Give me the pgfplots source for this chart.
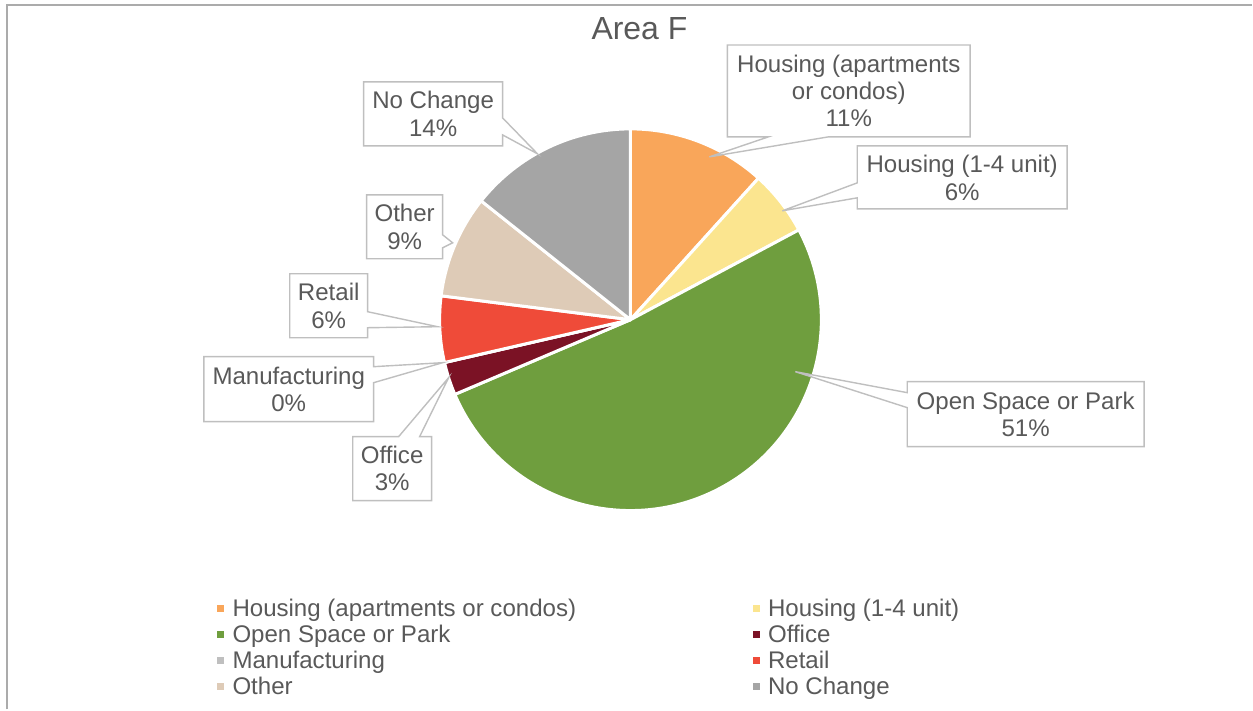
\documentclass[border=0pt]{standalone}
\usepackage{pgfplots}
\pgfplotsset{compat=1.18}
\usepackage{pgfplotstable}
\usepackage{fontspec}
\setmainfont{Liberation Sans}

\definecolor{cApt}{HTML}{F9A65A}
\definecolor{cSmall}{HTML}{FBE58F}
\definecolor{cOpen}{HTML}{6F9E3E}
\definecolor{cOffice}{HTML}{7B1225}
\definecolor{cManu}{HTML}{BFBFBF}
\definecolor{cRetail}{HTML}{EF4B39}
\definecolor{cOther}{HTML}{DECBB7}
\definecolor{cNoCh}{HTML}{A5A5A5}
\definecolor{txt}{HTML}{595959}
\definecolor{boxline}{HTML}{BFBFBF}
\definecolor{framegray}{HTML}{ABABAB}

% share of each slice, clockwise from 12 o'clock
\pgfplotstableread{
idx value color
0 11.7 cApt
1 5.5  cSmall
2 51.4 cOpen
3 2.8  cOffice
4 0.0  cManu
5 5.6  cRetail
6 8.7  cOther
7 14.3 cNoCh
}\piedata

\begin{document}
\begin{tikzpicture}[
  lbl/.style={text=txt, align=center, inner sep=0pt,
    font=\fontsize{6.85}{7.8}\selectfont},
  callout/.style={draw=boxline, fill=white, line width=0.4pt, line join=miter},
]
% start and end angle of every slice
\def\acc{90}
\foreach \i in {0,...,7}{
  \pgfplotstablegetelem{\i}{value}\of\piedata
  \pgfmathsetmacro\e{\acc-3.6*\pgfplotsretval}
  \expandafter\xdef\csname pa\i\endcsname{\acc}
  \expandafter\xdef\csname pb\i\endcsname{\e}
  \xdef\acc{\e}
  \pgfplotstablegetelem{\i}{color}\of\piedata
  \expandafter\xdef\csname pc\i\endcsname{\pgfplotsretval}
}
\begin{axis}[
  scale only axis, width=12.53cm, height=7.10cm,
  xmin=0, xmax=1253, ymin=0, ymax=710, y dir=reverse,
  hide axis, clip=false,
]
\path (rel axis cs:0,0) rectangle (rel axis cs:1,1);

% frame (only top and left edges are in view)
\draw[framegray, line width=0.6pt] (axis cs:7,710) -- (axis cs:7,5) -- (axis cs:1253,5);

\node[text=txt, font=\fontsize{9.1}{10}\selectfont] at (axis cs:640,29) {Area F};

% slices
\pgfplotsinvokeforeach{0,...,7}{
  \fill[fill=\csname pc#1\endcsname, draw=white, line width=0.85pt, line join=round]
    (axis cs:631,320)
    -- (axis cs:{631+191*cos(\csname pa#1\endcsname)},{320-191*sin(\csname pa#1\endcsname)})
    arc[start angle=\csname pa#1\endcsname, end angle=\csname pb#1\endcsname, radius=1.91cm]
    -- cycle;
}

% callouts
\draw[callout] (axis cs:728,45) -- (axis cs:971,45) -- (axis cs:971,137) -- (axis cs:829,137)
  -- (axis cs:710,157) -- (axis cs:769,137) -- (axis cs:728,137) -- cycle;
\node[lbl] at (axis cs:849.5,91) {Housing (apartments\\or condos)\\11\%};

\draw[callout] (axis cs:858,146) -- (axis cs:1068,146) -- (axis cs:1068,209) -- (axis cs:858,209)
  -- (axis cs:858,198) -- (axis cs:783,211) -- (axis cs:858,183) -- cycle;
\node[lbl] at (axis cs:963,178) {Housing (1-4 unit)\\6\%};

\draw[callout] (axis cs:908,382) -- (axis cs:1145,382) -- (axis cs:1145,447) -- (axis cs:908,447)
  -- (axis cs:908,408) -- (axis cs:796,372) -- (axis cs:908,393) -- cycle;
\node[lbl] at (axis cs:1026.5,414.5) {Open Space or Park\\51\%};

\draw[callout] (axis cs:353,437) -- (axis cs:399,437) -- (axis cs:449,378) -- (axis cs:420,437)
  -- (axis cs:432,437) -- (axis cs:432,501) -- (axis cs:353,501) -- cycle;
\node[lbl] at (axis cs:392.5,469) {Office\\3\%};

\draw[callout] (axis cs:204,357) -- (axis cs:374,357) -- (axis cs:374,367) -- (axis cs:443,363)
  -- (axis cs:374,383) -- (axis cs:374,422) -- (axis cs:204,422) -- cycle;
\node[lbl] at (axis cs:289,389.5) {Manufacturing\\0\%};

\draw[callout] (axis cs:290,274) -- (axis cs:368,274) -- (axis cs:368,312) -- (axis cs:438,327)
  -- (axis cs:368,328) -- (axis cs:368,338) -- (axis cs:290,338) -- cycle;
\node[lbl] at (axis cs:329,306) {Retail\\6\%};

\draw[callout] (axis cs:367,195) -- (axis cs:443,195) -- (axis cs:443,235) -- (axis cs:453,243)
  -- (axis cs:443,248) -- (axis cs:443,259) -- (axis cs:367,259) -- cycle;
\node[lbl] at (axis cs:405,227) {Other\\9\%};

\draw[callout] (axis cs:364,82) -- (axis cs:503,82) -- (axis cs:503,118) -- (axis cs:538,154)
  -- (axis cs:503,135) -- (axis cs:503,146) -- (axis cs:364,146) -- cycle;
\node[lbl] at (axis cs:433.5,114) {No Change\\14\%};

% legend
\foreach \c/\t/\x/\y in {
  cApt/Housing (apartments or condos)/221/609,
  cSmall/Housing (1-4 unit)/757/609,
  cOpen/Open Space or Park/221/635,
  cOffice/Office/757/635,
  cManu/Manufacturing/221/661,
  cRetail/Retail/757/661,
  cOther/Other/221/687,
  cNoCh/No Change/757/687}{
  \edef\temp{\noexpand\fill[\c] (axis cs:\x-3.5,\y-3.5) rectangle (axis cs:\x+3.5,\y+3.5);
    \noexpand\node[lbl, anchor=base west] at (axis cs:\x+11,\y+8) {\t};}
  \temp
}
\end{axis}
\end{tikzpicture}
\end{document}
